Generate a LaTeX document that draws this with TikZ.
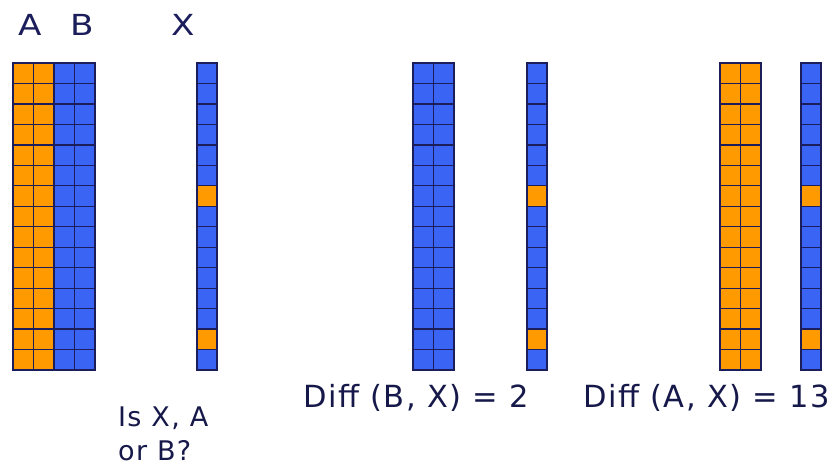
\documentclass[tikz,border=0pt]{standalone}
\usepackage{fontspec}
\newfontfamily\letfont[FakeStretch=1.18]{DejaVu Sans}
\newfontfamily\capfont[LetterSpace=5]{DejaVu Sans}
\definecolor{cOr}{HTML}{FF9B00}
\definecolor{cBl}{HTML}{3A64F4}
\definecolor{cLn}{HTML}{1C1E5C}
\begin{document}
\begin{tikzpicture}[x=1pt,y=-1pt,
  cell/.style={draw=cLn, line width=1.3pt},
  letter/.style={anchor=base, inner sep=0pt, text=cLn, font=\letfont\fontsize{29}{36}\selectfont},
  caption/.style={anchor=base west, inner sep=0pt, text=cLn!80!black, font=\capfont\fontsize{30.5}{36}\selectfont},
  question/.style={anchor=base west, inner sep=0pt, text=cLn!80!black, font=\capfont\fontsize{27}{33}\selectfont}]
\useasboundingbox (0,0) rectangle (836,465);
\def\h{20.47}
% plain columns (A, B and their copies)
\foreach \x/\c in {13/cOr,33.5/cOr,54/cBl,74.5/cBl,413/cBl,433.5/cBl,720/cOr,740.5/cOr}{
  \foreach \r in {0,...,14}{
    \filldraw[cell, fill=\c] (\x,63+\r*\h) rectangle ++(20.5,\h);
  }
}
% X columns
\foreach \x in {197,527,801}{
  \foreach \r in {0,...,14}{
    \ifnum\r=6 \def\c{cOr}\else\ifnum\r=13 \def\c{cOr}\else\def\c{cBl}\fi\fi
    \filldraw[cell, fill=\c] (\x,63+\r*\h) rectangle ++(20,\h);
  }
}
\node[letter] (la) at (30.5,36) {A};
\node[letter] (lb) at (82,36) {B};
\node[letter] (lx) at (183,36) {X};
\node[question] (q1) at (118,426) {Is X, A};
\node[question] (q2) at (118,460) {or B?};
\node[caption] (d1) at (303,407) {Diff (B, X) = 2};
\node[caption] (d2) at (583,407) {Diff (A, X) = 13};
\end{tikzpicture}
\end{document}
